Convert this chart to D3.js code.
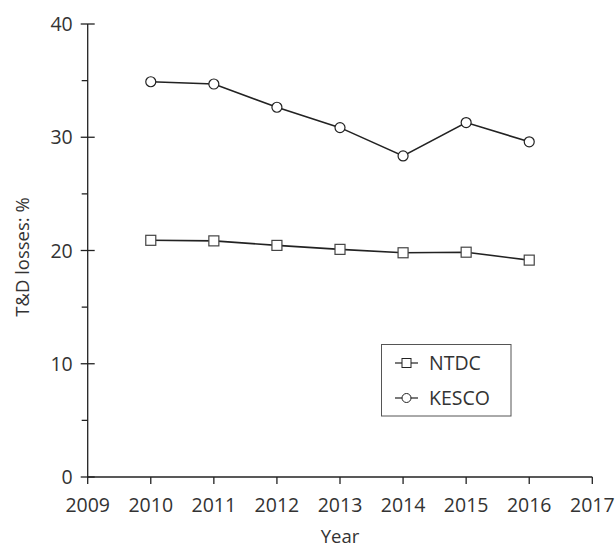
<html>
<script src="https://d3js.org/d3.v7.min.js"></script>
<style>
body { margin: 0; background: #fff; }
text { font-family: "Open Sans", sans-serif; fill: #333; }
</style>
<body>
<svg width="616" height="544"></svg>
<script>
var years = [2010, 2011, 2012, 2013, 2014, 2015, 2016];
var ntdc = [20.9, 20.85, 20.45, 20.1, 19.8, 19.85, 19.15];
var kesco = [34.9, 34.7, 32.65, 30.85, 28.35, 31.3, 29.6];
var xTicks = [2009, 2010, 2011, 2012, 2013, 2014, 2015, 2016, 2017];
var yTicks = [0, 10, 20, 30, 40];
var yMinor = [5, 15, 25, 35];

var svg = d3.select("svg");

var x = d3.scaleLinear().domain([2009, 2017]).range([87.7, 592.3]);
var y = d3.scaleLinear().domain([0, 40]).range([477, 24]);

// y axis
var yAxis = svg.append("g").attr("transform", "translate(87.7,0)");
yAxis.append("line").attr("y1", y(0)).attr("y2", y(40)).attr("stroke", "#222").attr("stroke-width", 1.3);
yAxis.selectAll(".maj").data(yTicks).enter().append("line")
  .attr("x1", -7).attr("x2", 7)
  .attr("y1", d => y(d)).attr("y2", d => y(d))
  .attr("stroke", "#222").attr("stroke-width", 1.3);
yAxis.selectAll(".min").data(yMinor).enter().append("line")
  .attr("x1", -6).attr("x2", 0)
  .attr("y1", d => y(d)).attr("y2", d => y(d))
  .attr("stroke", "#222").attr("stroke-width", 1.3);
yAxis.selectAll(".lab").data(yTicks).enter().append("text")
  .attr("x", -15).attr("y", d => y(d)).attr("dy", "0.36em")
  .attr("text-anchor", "end").attr("font-size", 19.5)
  .text(d => d);

// x axis
var xAxis = svg.append("g").attr("transform", "translate(0," + y(0) + ")");
xAxis.append("line").attr("x1", x(2009)).attr("x2", x(2017)).attr("stroke", "#222").attr("stroke-width", 1.3);
xAxis.selectAll(".tk").data(xTicks).enter().append("line")
  .attr("x1", d => x(d)).attr("x2", d => x(d))
  .attr("y1", 0).attr("y2", 7)
  .attr("stroke", "#222").attr("stroke-width", 1.3);
xAxis.selectAll(".lab").data(xTicks).enter().append("text")
  .attr("x", d => x(d)).attr("y", 28).attr("dy", "0.36em")
  .attr("text-anchor", "middle").attr("font-size", 19.5)
  .text(d => d);

svg.append("text").attr("x", 340).attr("y", 543)
  .attr("text-anchor", "middle").attr("font-size", 18.5).text("Year");
svg.append("text").attr("transform", "translate(29,257) rotate(-90)")
  .attr("text-anchor", "middle").attr("font-size", 18.5)
  .text("T&D losses: %");

var line = d3.line().x((d, i) => x(years[i])).y(d => y(d));

function series(vals, shape) {
  svg.append("path").datum(vals).attr("d", line)
    .attr("fill", "none").attr("stroke", "#222").attr("stroke-width", 1.6);
  var g = svg.append("g");
  if (shape === "circle") {
    g.selectAll("circle").data(vals).enter().append("circle")
      .attr("cx", (d, i) => x(years[i])).attr("cy", d => y(d)).attr("r", 5)
      .attr("fill", "#fff").attr("stroke", "#222").attr("stroke-width", 1.2);
  } else {
    g.selectAll("rect").data(vals).enter().append("rect")
      .attr("x", (d, i) => x(years[i]) - 5).attr("y", d => y(d) - 5)
      .attr("width", 10).attr("height", 10)
      .attr("fill", "#fff").attr("stroke", "#444").attr("stroke-width", 1.2);
  }
}
series(ntdc, "rect");
series(kesco, "circle");

// legend
var lg = svg.append("g");
lg.append("rect").attr("x", 381.5).attr("y", 344.5).attr("width", 129.5).attr("height", 71.5)
  .attr("fill", "#fff").attr("stroke", "#555").attr("stroke-width", 1);
var items = [{name: "NTDC", shape: "rect", cy: 363}, {name: "KESCO", shape: "circle", cy: 398}];
items.forEach(function (it) {
  lg.append("line").attr("x1", 395).attr("x2", 418).attr("y1", it.cy).attr("y2", it.cy)
    .attr("stroke", "#222").attr("stroke-width", 1.2);
  if (it.shape === "rect") {
    lg.append("rect").attr("x", 402).attr("y", it.cy - 4.5).attr("width", 9).attr("height", 9)
      .attr("fill", "#fff").attr("stroke", "#222").attr("stroke-width", 1);
  } else {
    lg.append("circle").attr("cx", 406.5).attr("cy", it.cy).attr("r", 4.5)
      .attr("fill", "#fff").attr("stroke", "#222").attr("stroke-width", 1);
  }
  lg.append("text").attr("x", 429).attr("y", it.cy).attr("dy", "0.36em")
    .attr("font-size", 19.5).text(it.name);
});
</script>
</body>
</html>
